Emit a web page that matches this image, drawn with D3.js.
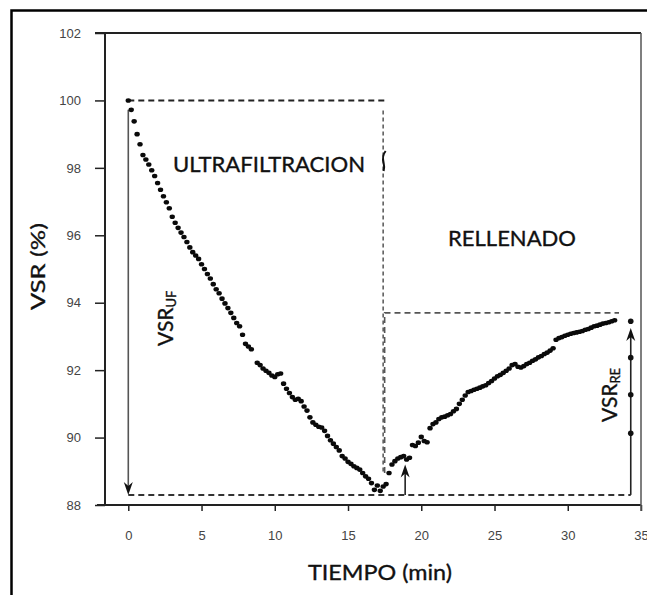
<!DOCTYPE html>
<html>
<head>
<meta charset="utf-8">
<script src="https://cdn.jsdelivr.net/npm/d3@7"></script>
<style>
  html, body { margin: 0; padding: 0; background: #fff; }
  svg { display: block; }
</style>
</head>
<body>
<svg id="chart" width="647" height="595"></svg>
<script>
// ---------------- DATA ----------------
const xTicks = [0, 5, 10, 15, 20, 25, 30, 35];
const yTicks = [88, 90, 92, 94, 96, 98, 100, 102];

// Ultrafiltration phase (minutes, VSR %)
const ufTime = [0.0,0.2,0.4,0.6,0.8,1.0,1.2,1.4,1.6,1.8,2.0,2.2,2.4,2.6,2.8,3.0,3.2,3.4,3.6,3.8,
  4.0,4.2,4.4,4.6,4.8,5.0,5.2,5.4,5.6,5.8,6.0,6.2,6.4,6.6,6.8,7.0,7.2,7.4,7.6,7.8,
  8.0,8.2,8.4,8.8,9.0,9.2,9.4,9.6,9.8,10.0,10.2,10.4,10.6,10.8,11.0,11.2,11.4,11.6,11.8,
  12.0,12.2,12.4,12.6,12.8,13.0,13.2,13.4,13.6,13.8,14.0,14.2,14.4,14.6,14.8,15.0,15.2,
  15.4,15.6,15.8,16.0,16.2,16.4,16.6,16.8,17.0,17.2,17.4,17.6];
const ufVSR = [100.0,99.72,99.38,99.0,98.7,98.38,98.25,98.1,97.93,97.76,97.55,97.35,97.16,96.98,96.8,96.55,96.37,96.22,96.08,95.95,
  95.8,95.64,95.5,95.4,95.3,95.14,95.0,94.85,94.72,94.55,94.4,94.28,94.12,93.98,93.84,93.7,93.55,93.4,93.3,93.05,
  92.78,92.7,92.62,92.22,92.15,92.05,91.98,91.92,91.84,91.8,91.88,91.9,91.6,91.45,91.32,91.2,91.12,91.15,91.08,
  90.92,90.8,90.6,90.45,90.38,90.32,90.3,90.2,90.05,89.92,89.82,89.72,89.62,89.45,89.38,89.28,89.22,
  89.15,89.1,89.05,88.95,88.85,88.78,88.65,88.45,88.58,88.42,88.55,88.62];

// Refilling phase (minutes, VSR %)
const reTime = [17.8,18.0,18.2,18.4,18.6,18.8,19.0,19.2,19.4,19.6,19.8,20.0,20.2,20.4,20.6,20.8,21.0,21.2,21.4,21.6,
  21.8,22.0,22.2,22.4,22.6,22.8,23.0,23.2,23.4,23.6,23.8,24.0,24.2,24.4,24.6,24.8,25.0,25.2,25.4,25.6,
  25.8,26.0,26.2,26.4,26.6,26.8,27.0,27.2,27.4,27.6,27.8,28.0,28.2,28.4,28.6,28.8,29.0,29.2,29.4,29.6,
  29.8,30.0,30.2,30.4,30.6,30.8,31.0,31.2,31.4,31.6,31.8,32.0,32.2,32.4,32.6,32.8,33.0,33.2];
const reVSR = [88.95,89.2,89.3,89.38,89.42,89.45,89.35,89.4,89.78,89.75,89.85,90.02,89.9,89.86,90.28,90.4,90.45,90.55,90.6,90.62,
  90.66,90.7,90.78,90.85,91.0,91.12,91.25,91.35,91.38,91.42,91.45,91.48,91.52,91.55,91.62,91.68,91.75,91.82,91.86,91.92,
  91.98,92.05,92.15,92.18,92.1,92.08,92.12,92.18,92.22,92.28,92.32,92.38,92.42,92.48,92.52,92.58,92.65,92.9,92.95,92.98,
  93.02,93.05,93.08,93.1,93.12,93.14,93.16,93.2,93.22,93.26,93.3,93.32,93.35,93.38,93.4,93.42,93.45,93.48];

// Markers on the VSR_RE arrow
const reMarkerTime = 34.3;
const reMarkerVSR = [93.45, 92.37, 91.27, 90.13];

// Guide boxes
const ufBox = { t0: 0, t1: 17.5, top: 100, bottom: 88.3, vEnd: 88.95 };
const reBox = { t0: 17.5, t1: 33.5, top: 93.7, vEnd: 88.95, bottomEnd: 34.3 };
const ufArrow = { t: 0, from: 99.72, to: 88.3 };
const smallArrow = { t: 18.9, from: 88.3, to: 89.2 };
const reArrow = { t: 34.3, from: 88.3, to: 93.45 };

// ---------------- CHART ----------------
const svg = d3.select("#chart");
const W = 647, H = 595;
const plot = { left: 105, right: 641, top: 33, bottom: 505 };

const x = d3.scaleLinear().domain([-1.59, 35]).range([plot.left, plot.right]);
const y = d3.scaleLinear().domain([88, 102]).range([plot.bottom, plot.top]);

svg.append("rect").attr("width", W).attr("height", H).attr("fill", "#fff");

// outer frame (extends past right/bottom edges)
svg.append("rect")
  .attr("x", 11.5).attr("y", 10.5).attr("width", 700).attr("height", 700)
  .attr("fill", "none").attr("stroke", "#000").attr("stroke-width", 2.5);

// axes
const yAxis = d3.axisLeft(y).tickValues(yTicks).tickSize(10).tickFormat(d3.format("d"));
const gy = svg.append("g").attr("transform", `translate(${plot.left},0)`).call(yAxis);
gy.select(".domain").remove();
gy.selectAll(".tick line").attr("stroke", "#222").attr("stroke-width", 1.5);
gy.selectAll(".tick text")
  .attr("x", -24).attr("font-family", "'Liberation Sans', Arial, sans-serif")
  .attr("font-size", 13).attr("fill", "#444");

const xAxis = d3.axisBottom(x).tickValues(xTicks).tickSize(6).tickFormat(d3.format("d"));
const gx = svg.append("g").attr("transform", `translate(0,${plot.bottom})`).call(xAxis);
gx.select(".domain").remove();
gx.selectAll(".tick line").attr("stroke", "#222").attr("stroke-width", 1.5);
gx.selectAll(".tick text")
  .attr("y", 26).attr("font-family", "'Liberation Sans', Arial, sans-serif")
  .attr("font-size", 13).attr("fill", "#444");

// frame lines
svg.append("line").attr("x1", plot.left).attr("x2", plot.left).attr("y1", plot.top).attr("y2", plot.bottom)
  .attr("stroke", "#222").attr("stroke-width", 2);
svg.append("line").attr("x1", plot.left - 10).attr("x2", plot.right).attr("y1", plot.top).attr("y2", plot.top)
  .attr("stroke", "#222").attr("stroke-width", 2);
svg.append("line").attr("x1", plot.left - 8).attr("x2", plot.right).attr("y1", plot.bottom).attr("y2", plot.bottom)
  .attr("stroke", "#222").attr("stroke-width", 2);
svg.append("line").attr("x1", x(35)).attr("x2", x(35)).attr("y1", plot.top).attr("y2", plot.bottom + 6)
  .attr("stroke", "#555").attr("stroke-width", 1.5);

// dashed guides
const dash = (pts, color, w, da) => svg.append("path")
  .attr("d", d3.line()(pts)).attr("fill", "none")
  .attr("stroke", color).attr("stroke-width", w).attr("stroke-dasharray", da);

dash([[x(ufBox.t0), y(ufBox.top)], [x(ufBox.t1), y(ufBox.top)]], "#222", 2, "6,4");
dash([[x(ufBox.t1) - 1.5, y(ufBox.top) + 10], [x(ufBox.t1) - 1.5, y(ufBox.vEnd)]], "#555", 1.5, "4,3");
dash([[x(ufBox.t0), y(ufBox.bottom)], [x(reBox.bottomEnd), y(ufBox.bottom)]], "#333", 2, "6,4");
dash([[x(reBox.t0), y(reBox.vEnd)], [x(reBox.t0), y(reBox.top)], [x(reBox.t1), y(reBox.top)]], "#555", 1.6, "6,4");

// little bracket mark on the vertical guide
svg.append("path")
  .attr("d", `M${x(ufBox.t1) + 1},${y(98.5)} q-4,5 -2,12 q1,4 0,8`)
  .attr("fill", "none").attr("stroke", "#111").attr("stroke-width", 2);

// arrows
function arrow(a, color) {
  const x0 = x(a.t), y0 = y(a.from), y1 = y(a.to);
  const dir = y1 > y0 ? 1 : -1;
  svg.append("line").attr("x1", x0).attr("x2", x0).attr("y1", y0).attr("y2", y1 - dir * 4)
    .attr("stroke", color).attr("stroke-width", 1.6);
  svg.append("path")
    .attr("d", `M${x0},${y1} L${x0 - 4.5},${y1 - dir * 13} L${x0},${y1 - dir * 9} L${x0 + 4.5},${y1 - dir * 13} Z`)
    .attr("fill", "#111");
}
arrow(ufArrow, "#555");
arrow(smallArrow, "#222");
arrow({ t: reArrow.t, from: reArrow.from, to: reArrow.to - 0.2 }, "#222");

svg.append("g").selectAll("circle").data(reMarkerVSR).join("circle")
  .attr("cx", x(reMarkerTime)).attr("cy", d => y(d)).attr("r", 2.8).attr("fill", "#111");

// data points
const pts = ufTime.map((t, i) => [t, ufVSR[i]]).concat(reTime.map((t, i) => [t, reVSR[i]]));
svg.append("g").selectAll("ellipse").data(pts).join("ellipse")
  .attr("cx", d => x(d[0])).attr("cy", d => y(d[1]))
  .attr("rx", 2.7).attr("ry", 2.3).attr("fill", "#0a0a0a");

// labels
const font = "Lato, 'Open Sans', sans-serif";
function label(sel) {
  return sel.attr("font-family", font).attr("fill", "#111")
    .attr("stroke", "#111").attr("stroke-width", 0.35);
}
label(svg.append("text")).attr("x", 173).attr("y", 172).attr("font-size", 21)
  .attr("textLength", 192).attr("lengthAdjust", "spacingAndGlyphs").text("ULTRAFILTRACION");
label(svg.append("text")).attr("x", 448).attr("y", 246).attr("font-size", 21)
  .attr("textLength", 128).attr("lengthAdjust", "spacingAndGlyphs").text("RELLENADO");
label(svg.append("text")).attr("x", 308).attr("y", 580).attr("font-size", 21)
  .attr("textLength", 144).attr("lengthAdjust", "spacingAndGlyphs").text("TIEMPO (min)");
label(svg.append("text")).attr("transform", "translate(45,310) rotate(-90)")
  .attr("font-size", 20).attr("textLength", 87).attr("lengthAdjust", "spacingAndGlyphs")
  .text("VSR (%)");

function subLabel(tx, ty, main, sub) {
  const t = label(svg.append("text")).attr("transform", `translate(${tx},${ty}) rotate(-90)`)
    .attr("font-size", 21);
  t.append("tspan").text(main);
  t.append("tspan").attr("font-size", 13).attr("dy", 3).text(sub);
}
subLabel(173, 346, "VSR", "UF");
subLabel(617, 422, "VSR", "RE");
</script>
</body>
</html>
